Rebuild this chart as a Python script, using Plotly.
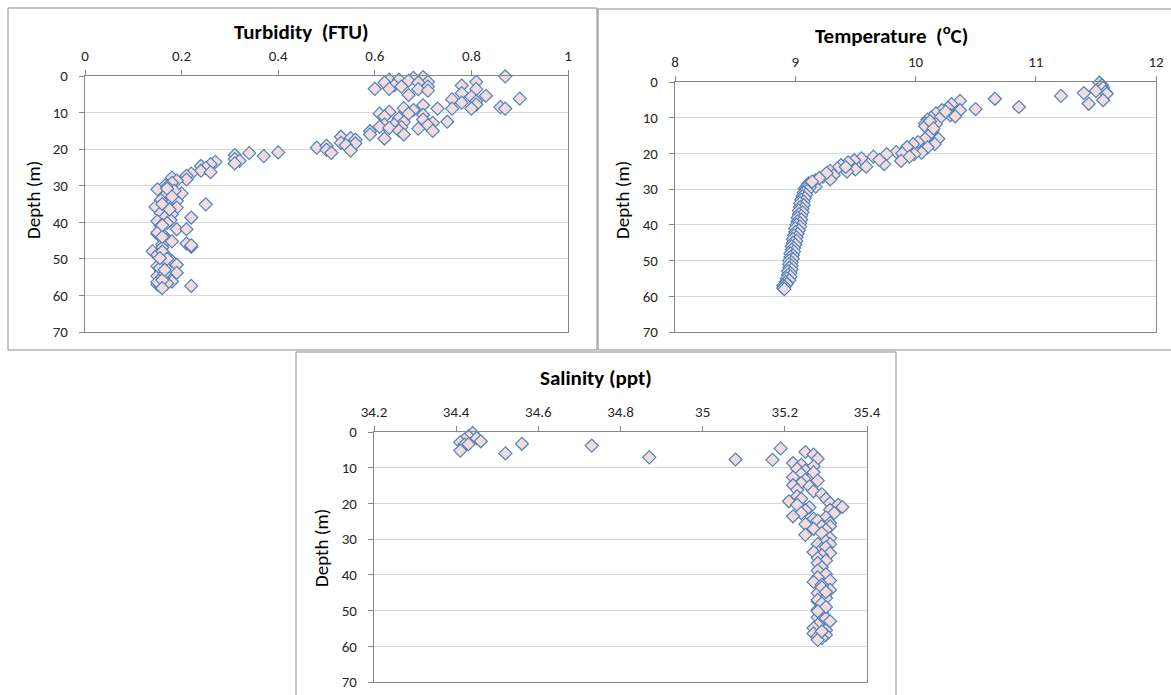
import plotly.graph_objects as go

W, H = 1171, 695

# Turbidity profile (FTU vs depth in m)
turb_ftu = [0.87, 0.70, 0.68, 0.63, 0.65, 0.62, 0.67, 0.71, 0.81, 0.69, 0.64, 0.655,
            0.78, 0.71, 0.60, 0.63, 0.69, 0.81, 0.71, 0.67, 0.78, 0.83, 0.80, 0.90,
            0.76, 0.78, 0.81, 0.81, 0.70, 0.73, 0.76, 0.80, 0.86, 0.87, 0.66, 0.68,
            0.63, 0.67, 0.61, 0.70, 0.62, 0.65, 0.70, 0.72, 0.75, 0.66, 0.62, 0.64,
            0.71, 0.61, 0.655, 0.63, 0.69, 0.72, 0.59, 0.65, 0.59, 0.66, 0.62, 0.53,
            0.55, 0.56, 0.56, 0.53, 0.54, 0.48, 0.50, 0.50, 0.55, 0.51, 0.40, 0.34,
            0.37, 0.31, 0.31, 0.32, 0.31, 0.27, 0.26, 0.24, 0.25, 0.24, 0.26, 0.22,
            0.21, 0.21, 0.18, 0.19, 0.18, 0.166, 0.15, 0.17, 0.20, 0.185, 0.165, 0.177,
            0.157, 0.19, 0.25, 0.146, 0.19, 0.17, 0.157, 0.18, 0.22, 0.165, 0.15, 0.177,
            0.157, 0.19, 0.21, 0.15, 0.165, 0.17, 0.16, 0.21, 0.22, 0.22, 0.14, 0.16,
            0.15, 0.17, 0.18, 0.19, 0.16, 0.15, 0.19, 0.157, 0.15, 0.16, 0.18, 0.15,
            0.22, 0.157, 0.15, 0.17, 0.16, 0.17, 0.18, 0.16, 0.17, 0.15, 0.16, 0.18,
            0.16, 0.17, 0.155, 0.165, 0.16, 0.175, 0.16, 0.155, 0.165, 0.16]
turb_depth = [0.1, 0.3, 0.5, 1.0, 1.0, 1.8, 1.3, 1.6, 1.6, 1.8, 2.6, 2.9,
              2.6, 2.9, 3.5, 3.5, 3.6, 3.6, 4.0, 5.2, 4.7, 5.4, 5.7, 6.2,
              6.4, 7.3, 6.9, 7.8, 8.0, 8.9, 8.9, 8.9, 8.5, 8.9, 8.8, 9.3,
              9.8, 10.3, 10.3, 10.6, 11.1, 11.5, 11.9, 12.8, 12.5, 12.6, 13.3, 13.3,
              13.5, 13.9, 14.0, 14.2, 14.4, 15.0, 15.1, 14.9, 16.0, 16.0, 17.1, 16.6,
              17.0, 17.4, 18.4, 18.3, 18.9, 19.6, 19.1, 20.2, 20.4, 21.0, 20.9, 21.1,
              21.9, 21.6, 22.7, 23.2, 23.9, 23.5, 24.1, 24.6, 25.1, 25.9, 26.3, 26.7,
              27.3, 28.3, 27.8, 28.6, 29.2, 29.9, 31.0, 30.3, 32.1, 31.4, 32.8, 33.7,
              33.9, 34.2, 35.1, 35.8, 36.0, 36.9, 37.4, 37.8, 38.7, 38.7, 39.7, 39.4,
              41.0, 41.9, 41.9, 43.2, 43.9, 44.8, 46.0, 45.8, 46.7, 46.3, 47.9, 46.9,
              48.9, 49.4, 50.6, 51.6, 51.0, 52.0, 53.8, 53.3, 54.7, 55.6, 56.2, 57.0,
              57.4, 57.6, 56.3, 56.7, 55.0, 30.8, 33.0, 35.0, 40.2, 42.8, 44.0, 45.2,
              48.0, 50.0, 52.5, 54.0, 55.8, 36.5, 40.8, 49.8, 53.0, 58.0]

# Temperature profile (degrees C vs depth in m)
temp_c = [11.53, 11.55, 11.56, 11.58, 11.50, 11.59, 11.40, 11.21, 11.44, 11.56,
          10.66, 10.86, 10.50, 10.37, 10.30, 10.27, 10.37, 10.22, 10.17, 10.29,
          10.13, 10.10, 10.20, 10.08, 10.08, 10.17, 10.14, 10.11, 10.19, 10.08,
          10.16, 10.02, 9.98, 9.93, 10.10, 10.05, 9.84, 9.99, 9.89, 9.95,
          9.88, 9.76, 9.65, 9.74, 9.55, 9.59, 9.49, 9.50, 9.44, 9.38,
          9.43, 9.35, 9.29, 9.32, 9.23, 9.17, 9.29, 9.11, 9.17, 9.08,
          9.13, 9.10, 9.12, 9.09, 9.10, 9.07, 9.09, 9.06, 9.08, 9.05,
          9.07, 9.04, 9.07, 9.04, 9.06, 9.03, 9.06, 9.03, 9.05, 9.02,
          9.05, 9.02, 9.04, 9.01, 9.04, 9.00, 9.03, 9.00, 9.02, 8.99,
          9.01, 8.98, 9.01, 8.98, 9.00, 8.97, 8.99, 8.97, 8.99, 8.96,
          8.98, 8.96, 8.98, 8.95, 8.97, 8.95, 8.97, 8.95, 8.97, 8.94,
          8.96, 8.94, 8.96, 8.93, 8.95, 8.92, 8.93, 8.90, 8.91, 8.90, 8.91,
          10.12, 10.25, 10.33, 10.15, 9.70, 9.42, 9.26, 9.20, 9.14]
temp_depth = [0.2, 0.9, 1.6, 2.8, 2.5, 3.3, 3.1, 3.9, 6.1, 5.1,
              4.7, 7.0, 7.6, 5.3, 6.2, 7.2, 7.9, 7.9, 8.8, 9.3,
              10.0, 10.5, 10.2, 11.6, 12.4, 11.8, 13.7, 14.9, 15.9, 15.9,
              17.4, 16.8, 17.4, 18.2, 18.3, 19.8, 19.6, 20.2, 20.0, 20.9,
              22.1, 20.2, 20.9, 23.0, 21.4, 23.7, 21.9, 24.5, 22.5, 23.3,
              25.1, 24.2, 24.9, 26.1, 26.5, 27.5, 27.3, 28.4, 29.3, 29.8,
              28.5, 29.0, 29.5, 30.0, 30.5, 31.0, 31.5, 32.0, 32.5, 33.0,
              33.5, 34.0, 34.5, 35.0, 35.5, 36.0, 36.5, 37.0, 37.5, 38.0,
              38.5, 39.0, 39.5, 40.0, 40.5, 41.0, 41.5, 42.0, 42.5, 43.0,
              43.5, 44.0, 44.5, 45.0, 45.5, 46.0, 46.5, 47.0, 47.5, 48.0,
              48.5, 49.0, 49.5, 50.0, 50.5, 51.0, 51.5, 52.0, 52.5, 53.0,
              53.5, 54.0, 54.5, 55.0, 55.5, 56.0, 56.5, 57.0, 57.3, 57.7, 58.0,
              11.0, 8.3, 9.6, 13.0, 21.8, 23.8, 25.5, 26.9, 27.9]

# Salinity profile (ppt vs depth in m)
sal_ppt = [34.44, 34.43, 34.45, 34.42, 34.46, 34.41, 34.42, 34.43, 34.41, 34.56,
           34.73, 34.52, 34.87, 35.08, 35.17, 35.19, 35.25, 35.27, 35.28, 35.22,
           35.24, 35.27, 35.23, 35.25, 35.27, 35.24, 35.22, 35.25, 35.28, 35.24,
           35.26, 35.22, 35.23, 35.27, 35.29, 35.23, 35.24, 35.30, 35.21, 35.31,
           35.33, 35.34, 35.23, 35.26, 35.25, 35.31, 35.24, 35.32, 35.22, 35.30,
           35.27, 35.28, 35.31, 35.25, 35.29, 35.31, 35.27, 35.30, 35.25, 35.29,
           35.31, 35.30, 35.28, 35.31, 35.29, 35.30, 35.27, 35.31, 35.29, 35.28,
           35.30, 35.28, 35.29, 35.28, 35.30, 35.28, 35.31, 35.27, 35.29, 35.31,
           35.28, 35.30, 35.28, 35.29, 35.28, 35.29, 35.28, 35.30, 35.31, 35.28,
           35.27, 35.30, 35.27, 35.30, 35.28, 35.29, 35.28, 35.29, 35.30, 35.28,
           35.29, 35.30, 35.28, 35.29]
sal_depth = [0.3, 1.2, 1.7, 2.1, 2.6, 2.9, 3.5, 3.4, 5.2, 3.3,
             3.8, 6.0, 7.1, 7.7, 7.8, 4.6, 5.6, 6.3, 7.5, 8.7,
             9.2, 9.6, 10.3, 10.8, 11.3, 11.8, 12.7, 13.4, 13.6, 14.3,
             15.2, 14.9, 16.2, 16.6, 17.4, 18.0, 18.7, 18.7, 19.4, 19.9,
             20.4, 21.0, 20.4, 21.1, 21.9, 21.8, 22.7, 22.7, 23.6, 23.9,
             24.3, 24.8, 25.5, 25.8, 26.4, 26.4, 27.1, 27.4, 28.8, 28.3,
             29.7, 30.6, 31.4, 31.4, 32.7, 32.3, 33.6, 33.9, 34.5, 35.3,
             36.0, 36.7, 37.9, 38.8, 39.8, 40.7, 41.6, 42.0, 42.8, 44.2,
             45.1, 46.5, 47.4, 48.4, 49.8, 50.7, 51.9, 52.1, 53.0, 54.0,
             54.9, 55.5, 56.4, 56.8, 57.3, 57.7, 58.2, 43.5, 44.8, 47.0,
             48.0, 49.0, 50.2, 55.8]

FONT = "Carlito, Calibri, Lato, sans-serif"
GRID = "#d9d9d9"
AXLINE = "#868686"
FILL = "#f2dcdb"
EDGE = "#4f81bd"

def px_x(p):
    return p / W

def px_y(p):
    return 1 - p / H

# plot areas in pixels: (left, right, top, bottom)
areas = [(85, 568, 76, 332), (675, 1156, 82, 332), (374, 867, 432, 682)]
xranges = [(0, 1, 0.2), (8, 12, 1), (34.2, 35.4, 0.2)]
series = [(turb_ftu, turb_depth), (temp_c, temp_depth), (sal_ppt, sal_depth)]

fig = go.Figure()
layout = dict(width=W, height=H, autosize=False, template="none",
              margin=dict(l=0, r=0, t=0, b=0, pad=0, autoexpand=False),
              paper_bgcolor="white", plot_bgcolor="white", showlegend=False,
              font=dict(family=FONT, color="#262626"))

for i, ((l, r, t, b), (x0, x1, dx), (xs, ys)) in enumerate(zip(areas, xranges, series)):
    n = "" if i == 0 else str(i + 1)
    fig.add_trace(go.Scatter(
        x=xs, y=ys, mode="markers", xaxis="x" + n, yaxis="y" + n,
        marker=dict(symbol="diamond", size=10, color=FILL,
                    line=dict(color=EDGE, width=1.2)),
        cliponaxis=False))
    layout["xaxis" + n] = dict(
        domain=[px_x(l), px_x(r)], range=[x0, x1], dtick=dx, tick0=x0,
        side="top", anchor="y" + n, showgrid=False, zeroline=False, automargin=False,
        showline=True, mirror=True, linecolor=AXLINE, linewidth=1.3,
        ticks="outside", ticklen=5, tickcolor=AXLINE,
        ticklabelstandoff=3, tickfont=dict(size=15, family=FONT, color="#262626"))
    layout["yaxis" + n] = dict(
        domain=[px_y(b), px_y(t)], range=[70, 0], dtick=10, anchor="x" + n,
        showgrid=True, gridcolor=GRID, gridwidth=1.3, zeroline=False, automargin=False,
        showline=True, mirror=True, linecolor=AXLINE, linewidth=1.3,
        ticks="outside", ticklen=5, tickcolor=AXLINE,
        ticklabelstandoff=8, tickfont=dict(size=15, family=FONT, color="#262626"))

titles = [("Turbidity  (FTU)", 301, 32), ("Temperature  (<sup>o</sup>C)", 891, 34),
          ("Salinity (ppt)", 596, 378)]
ylabels = [(33, 200), (622, 200), (321, 548)]
ann = []
for text, cx, cy in titles:
    ann.append(dict(text="<b>" + text + "</b>", x=px_x(cx), y=px_y(cy),
                    xref="paper", yref="paper", showarrow=False,
                    xanchor="center", yanchor="middle",
                    font=dict(size=21, family=FONT, color="#000000")))
for cx, cy in ylabels:
    ann.append(dict(text="Depth (m)", x=px_x(cx), y=px_y(cy), textangle=-90,
                    xref="paper", yref="paper", showarrow=False,
                    xanchor="center", yanchor="middle",
                    font=dict(size=19, family=FONT, color="#000000")))
layout["annotations"] = ann

# outer frames of the three chart boxes
frames = [(8, 597, 8, 350), (598, 1175, 9, 350), (296, 896, 352, 700)]
layout["shapes"] = [dict(type="rect", xref="paper", yref="paper",
                         x0=px_x(a), x1=px_x(c), y0=px_y(d), y1=px_y(bt),
                         line=dict(color="#8c8c8c", width=1), layer="below")
                    for a, c, bt, d in frames]

fig.update_layout(**layout)
fig.write_html("out.html")
